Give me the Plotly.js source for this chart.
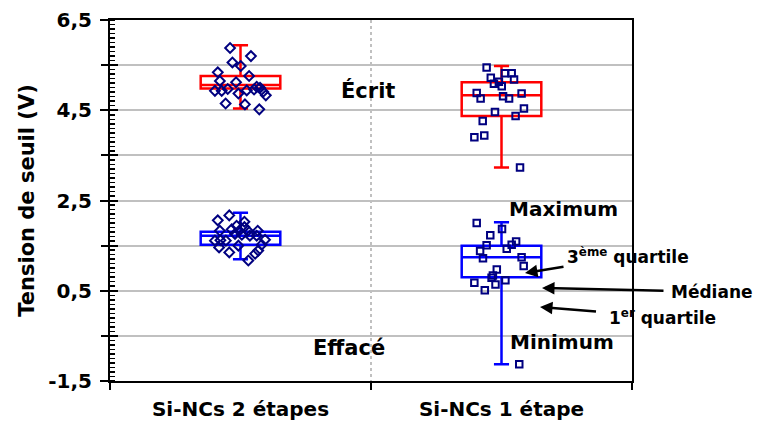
<!DOCTYPE html>
<html>
<head>
<meta charset="utf-8">
<script src="https://cdn.plot.ly/plotly-3.0.1.min.js"></script>
<style>html,body{margin:0;padding:0;background:#fff;}#chart{width:757px;height:425px;}</style>
</head>
<body>
<div id="chart"></div>
<script>
// ---- data ----
const categories = ['Si-NCs 2 étapes', 'Si-NCs 1 étape'];
const catPos = [0, 1];
const categoryBounds = [-0.5, 0.5, 1.5];
const yLabelVals = [-1.5, 0.5, 2.5, 4.5, 6.5];
const yLabelText = ['-1,5', '0,5', '2,5', '4,5', '6,5'];
const yGridVals = [-1.5, -0.5, 0.5, 1.5, 2.5, 3.5, 4.5, 5.5, 6.5];
const yMidVals = [-0.5, 1.5, 3.5, 5.5];

// box statistics [2 étapes, 1 étape]
const ecritMin = [4.54, 3.23];
const ecritQ1 = [4.98, 4.37];
const ecritMed = [5.06, 4.83];
const ecritQ3 = [5.26, 5.12];
const ecritMax = [5.94, 5.48];

const effaceMin = [1.20, -1.13];
const effaceQ1 = [1.52, 0.80];
const effaceMed = [1.72, 1.24];
const effaceQ3 = [1.81, 1.50];
const effaceMax = [2.23, 2.02];

// individual measurements (x includes horizontal jitter)
const ecrit2x = [-0.040, 0.040, -0.031, 0.001, -0.087, 0.033, -0.079, -0.017, 0.062, 0.075, -0.098, -0.072, -0.049, 0.024, -0.008, 0.052, 0.097, -0.057, 0.017, 0.072, 0.087];
const ecrit2y = [5.88, 5.70, 5.56, 5.48, 5.34, 5.26, 5.15, 5.12, 5.02, 5.00, 4.93, 4.93, 4.97, 4.94, 4.87, 4.96, 4.83, 4.65, 4.63, 4.52, 4.91];

const efface2x = [-0.043, -0.087, 0.015, -0.015, 0.015, -0.079, -0.034, -0.005, 0.028, 0.066, -0.021, 0.005, 0.036, 0.062, -0.098, -0.077, -0.056, -0.008, 0.094, 0.081, -0.082, -0.043, 0.068, 0.056, 0.030];
const efface2y = [2.17, 2.06, 2.03, 1.94, 1.91, 1.83, 1.86, 1.83, 1.83, 1.83, 1.76, 1.74, 1.72, 1.72, 1.61, 1.62, 1.61, 1.50, 1.63, 1.52, 1.46, 1.35, 1.39, 1.32, 1.17];

const ecrit1x = [0.943, 1.013, 1.039, 0.959, 1.048, 0.971, 0.990, 1.001, 0.905, 0.920, 1.006, 1.029, 1.077, 1.086, 0.975, 1.054, 0.928, 0.934, 0.896, 1.071];
const ecrit1y = [5.45, 5.32, 5.32, 5.22, 5.18, 5.09, 5.13, 5.03, 4.88, 4.76, 4.81, 4.76, 4.87, 4.54, 4.46, 4.37, 4.26, 3.94, 3.90, 3.23];

const efface1x = [0.905, 1.002, 0.957, 0.943, 0.918, 0.929, 1.077, 1.085, 0.982, 0.967, 0.962, 1.015, 0.977, 0.896, 0.936, 1.020, 1.039, 1.056, 1.068];
const efface1y = [2.00, 1.87, 1.73, 1.51, 1.38, 1.22, 1.24, 1.05, 0.97, 0.84, 0.79, 0.73, 0.64, 0.68, 0.51, 1.43, 1.52, 1.59, -1.13];

// ---- styles ----
const FONT = 'DejaVu Sans, Liberation Sans, Arial, sans-serif';
const RED = '#FF0000', BLUE = '#0000FF', NAVY = '#000080';

function box(color, q1, med, q3, lo, hi) {
  return {
    type: 'box', x: catPos, q1: q1, median: med, q3: q3, lowerfence: lo, upperfence: hi,
    boxpoints: false, width: 0.305, whiskerwidth: 0.19,
    line: {color: color, width: 2.5}, fillcolor: 'rgba(0,0,0,0)',
    hoverinfo: 'skip', showlegend: false
  };
}
function pts(x, y, symbol, size) {
  return {
    type: 'scatter', mode: 'markers', x: x, y: y, cliponaxis: false,
    marker: {symbol: symbol, size: size, color: NAVY, line: {color: NAVY, width: 2}},
    hoverinfo: 'skip', showlegend: false
  };
}
const dummy = (xa, ya) => ({type: 'scatter', mode: 'markers', x: [], y: [], xaxis: xa, yaxis: ya, showlegend: false, hoverinfo: 'skip'});

const traces = [
  box(RED, ecritQ1, ecritMed, ecritQ3, ecritMin, ecritMax),
  box(BLUE, effaceQ1, effaceMed, effaceQ3, effaceMin, effaceMax),
  pts(ecrit2x, ecrit2y, 'diamond-open', 7.5),
  pts(efface2x, efface2y, 'diamond-open', 7.5),
  pts(ecrit1x, ecrit1y, 'square-open', 6.5),
  pts(efface1x, efface1y, 'square-open', 6.5),
  dummy('x2', 'y2'),
  dummy('x', 'y3')
];

// pixel → paper helpers for text labels
const L = 110, R = 632, T = 20, B = 381;
const px = v => (v - L) / (R - L);
const py = v => (B - v) / (B - T);

function label(text, x, y, size) {
  return {xref: 'paper', yref: 'paper', x: px(x), y: py(y), text: text, showarrow: false,
          xanchor: 'center', yanchor: 'middle',
          font: {family: FONT, size: size, color: '#000', weight: 'bold'}};
}
// text centred at (tx,ty) with an arrow pointing to (hx,hy)
function pointer(text, tx, ty, hx, hy, pad) {
  return {xref: 'paper', yref: 'paper', x: px(hx), y: py(hy), ax: tx - hx, ay: ty - hy,
          axref: 'pixel', ayref: 'pixel', text: text, showarrow: true, borderpad: pad,
          font: {family: FONT, size: 17, color: '#000', weight: 'bold'},
          arrowhead: 2, arrowsize: 1, arrowwidth: 2.5, arrowcolor: '#000', standoff: 0};
}

const layout = {
  width: 757, height: 425,
  margin: {l: L, r: 757 - R, t: T, b: 425 - B, pad: 0},
  paper_bgcolor: '#fff', plot_bgcolor: '#fff',
  boxmode: 'overlay', showlegend: false,
  xaxis: {
    range: [-0.5, 1.5], tickmode: 'array', tickvals: catPos, ticktext: categories,
    ticks: '', ticklabelstandoff: 9,
    tickfont: {family: FONT, size: 20, color: '#000', weight: 'bold'},
    showline: true, linecolor: '#000', linewidth: 2, mirror: true,
    showgrid: false, zeroline: false
  },
  xaxis2: {
    overlaying: 'x', anchor: 'y', side: 'bottom', range: [-0.5, 1.5],
    tickmode: 'array', tickvals: categoryBounds, ticks: 'outside', ticklen: 8, tickwidth: 2, tickcolor: '#000',
    showticklabels: false, showgrid: true, gridcolor: '#c0c0c0', gridwidth: 2, griddash: 'dot',
    zeroline: false, showline: false
  },
  yaxis: {
    range: [-1.5, 6.5], tickmode: 'array', tickvals: yLabelVals, ticktext: yLabelText,
    ticks: 'outside', ticklen: 8, tickwidth: 2, tickcolor: '#000', ticklabelstandoff: 4,
    tickfont: {family: FONT, size: 20, color: '#000', weight: 'bold'},
    showgrid: false,
    showline: true, linecolor: '#000', linewidth: 2, mirror: true, zeroline: false,
    minor: {tickmode: 'linear', tick0: -1.5, dtick: 0.1, ticks: 'inside', ticklen: 5, tickwidth: 1.5, tickcolor: '#000', showgrid: false},
    title: {text: 'Tension de seuil (V)', standoff: 8, font: {family: FONT, size: 21, color: '#000', weight: 'bold'}}
  },
  yaxis2: {
    overlaying: 'y', anchor: 'x', side: 'left', range: [-1.5, 6.5],
    tickmode: 'array', tickvals: yGridVals, ticks: 'inside', ticklen: 8, tickwidth: 2, tickcolor: '#000',
    showticklabels: false, showgrid: true, gridcolor: '#c0c0c0', gridwidth: 2, zeroline: false, showline: false
  },
  yaxis3: {
    overlaying: 'y', anchor: 'x', side: 'left', range: [-1.5, 6.5],
    tickmode: 'array', tickvals: yMidVals, ticks: 'outside', ticklen: 8, tickwidth: 2, tickcolor: '#000',
    showticklabels: false, showgrid: false, zeroline: false, showline: false
  },
  annotations: [
    label('Écrit', 368, 90, 21),
    label('Effacé', 349, 348, 21),
    label('Maximum', 563, 209, 20),
    label('Minimum', 562, 342, 20),
    pointer('3<sup>ème</sup> quartile', 628, 256, 525, 273, 3),
    pointer('Médiane', 712, 292, 542, 288, 7),
    pointer('1<sup>er</sup> quartile', 662, 317, 540, 307, 12)
  ]
};

function dropEmptyTexts(gd) {
  gd.querySelectorAll('text').forEach(t => {
    if (!t.textContent.trim()) t.remove();
  });
}

Plotly.newPlot('chart', traces, layout, {staticPlot: true, displayModeBar: false}).then(gd => {
  dropEmptyTexts(gd);
  setTimeout(() => dropEmptyTexts(gd), 50);
});
</script>
</body>
</html>
